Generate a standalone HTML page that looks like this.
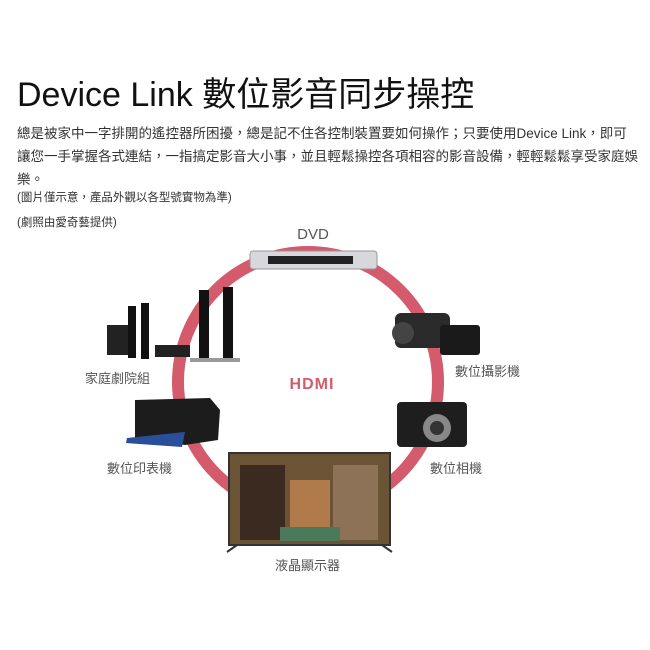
<!DOCTYPE html>
<html><head><meta charset="utf-8"><style>
body{margin:0;width:650px;height:650px;background:#fff;overflow:hidden;font-family:"Liberation Sans","Noto Sans CJK TC",sans-serif;color:#222;position:relative}
.a{position:absolute;white-space:nowrap}
</style></head><body>
<div class="a" style="left:17px;top:67px;font-size:34px;color:#111">Device Link 數位影音同步操控</div>
<div class="a" style="left:17px;top:122px;font-size:13.5px;line-height:23px;color:#333">總是被家中一字排開的遙控器所困擾，總是記不住各控制裝置要如何操作；只要使用Device Link，即可<br>讓您一手掌握各式連結，一指搞定影音大小事，並且輕鬆操控各項相容的影音設備，輕輕鬆鬆享受家庭娛<br>樂。</div>
<div class="a" style="left:17px;top:189px;font-size:11.5px;color:#333">(圖片僅示意，產品外觀以各型號實物為準)</div>
<div class="a" style="left:17px;top:214px;font-size:11.5px;color:#333">(劇照由愛奇藝提供)</div>
<svg class="a" style="left:0;top:0" width="650" height="650">
<circle cx="308" cy="382" r="130" fill="none" stroke="#d35b6b" stroke-width="12"/>
<text x="313" y="239" font-size="15" fill="#555" text-anchor="middle" font-family="Liberation Sans">DVD</text>
<text x="312" y="389" font-size="16" fill="#d35b6b" text-anchor="middle" font-family="Liberation Sans" font-weight="bold" letter-spacing="1">HDMI</text>
<g font-size="13" fill="#555" font-family="Liberation Sans, Noto Sans CJK TC, sans-serif">
<text x="85" y="383">家庭劇院組</text><text x="455" y="376">數位攝影機</text>
<text x="107" y="473">數位印表機</text><text x="430" y="473">數位相機</text>
<text x="275" y="570">液晶顯示器</text></g>
<rect x="250" y="251" width="127" height="18" rx="3" fill="#d8d8dc" stroke="#999"/>
<rect x="268" y="256" width="85" height="8" fill="#222"/>
<rect x="107" y="325" width="22" height="30" fill="#222"/>
<rect x="128" y="306" width="8" height="52" fill="#111"/><rect x="141" y="303" width="8" height="56" fill="#111"/>
<rect x="155" y="345" width="35" height="12" fill="#222"/>
<rect x="199" y="290" width="10" height="68" fill="#111"/><rect x="223" y="287" width="10" height="72" fill="#111"/>
<rect x="190" y="358" width="50" height="4" fill="#999"/>
<rect x="395" y="313" width="55" height="35" rx="6" fill="#2a2a2a"/>
<rect x="440" y="325" width="40" height="30" rx="3" fill="#1a1a1a"/>
<circle cx="403" cy="333" r="11" fill="#444"/>
<polygon points="135,400 210,398 220,410 218,440 185,445 135,438" fill="#1c1c1c"/>
<polygon points="127,438 185,432 182,447 126,443" fill="#2a4f9a"/>
<rect x="397" y="402" width="70" height="45" rx="4" fill="#1e1e1e"/>
<circle cx="437" cy="428" r="14" fill="#888"/><circle cx="437" cy="428" r="7" fill="#333"/>
<rect x="229" y="453" width="161" height="92" fill="#6b5436" stroke="#333" stroke-width="2"/>
<rect x="240" y="465" width="45" height="75" fill="#3a2a20"/>
<rect x="290" y="480" width="40" height="60" fill="#b07a4a"/>
<rect x="333" y="465" width="45" height="75" fill="#8e7258"/>
<rect x="280" y="527" width="60" height="14" fill="#4a7a5a"/>
<line x1="237" y1="545" x2="227" y2="552" stroke="#333" stroke-width="2"/>
<line x1="382" y1="545" x2="392" y2="552" stroke="#333" stroke-width="2"/>
</svg>
</body></html>
